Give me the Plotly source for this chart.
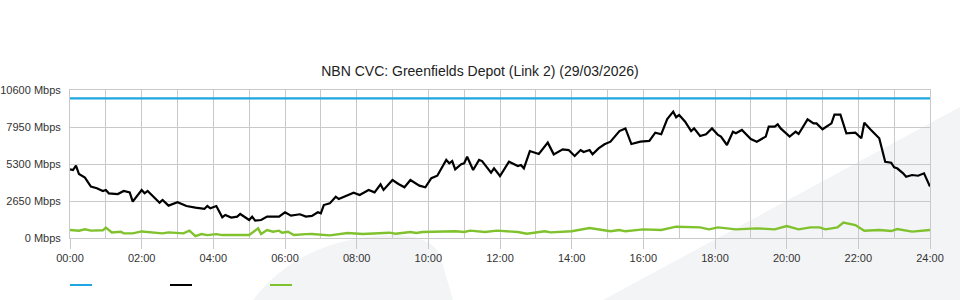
import plotly.graph_objects as go

# ---- data ----
capacity_min = [0, 1440]
capacity_mbps = [10000, 10000]

down_min = [0, 5, 10, 15, 25, 35, 45, 55, 60, 65, 80, 90, 100, 105, 120, 125, 130, 150, 155, 165,
            180, 195, 210, 225, 230, 235, 245, 255, 260, 270, 280, 285, 300, 305, 310, 320, 330, 350,
            360, 370, 385, 395, 405, 415, 420, 425, 435, 445, 450, 460, 475, 485, 500, 510, 520, 525,
            540, 550, 560, 570, 585, 595, 605, 615, 630, 635, 640, 645, 655, 660, 665, 675, 685, 690,
            705, 710, 720, 735, 750, 755, 760, 770, 785, 800, 810, 825, 835, 845, 855, 860, 870, 875,
            885, 895, 905, 920, 930, 940, 955, 970, 980, 990, 1000, 1010, 1015, 1020, 1030, 1040, 1045,
            1055, 1065, 1075, 1085, 1090, 1100, 1110, 1115, 1125, 1140, 1150, 1165, 1170, 1180, 1185,
            1190, 1205, 1215, 1220, 1235, 1245, 1250, 1260, 1275, 1280, 1290, 1300, 1315, 1325, 1330,
            1340, 1355, 1365, 1375, 1380, 1385, 1395, 1400, 1410, 1420, 1430, 1440]
down_mbps = [4920, 4870, 5180, 4580, 4320, 3680, 3560, 3370, 3440, 3200, 3150, 3370, 3270, 2600, 3440,
             3200, 3370, 2530, 2720, 2320, 2560, 2290, 2170, 2080, 2290, 2130, 2290, 1480, 1650, 1460,
             1530, 1720, 1290, 1530, 1240, 1290, 1530, 1530, 1840, 1600, 1700, 1530, 1580, 1840, 1770,
             2360, 2480, 2960, 2790, 2960, 3250, 3080, 3440, 3270, 3840, 3440, 4150, 3870, 3630, 4150,
             3750, 3630, 4280, 4460, 5590, 5350, 5510, 4920, 5280, 5350, 5820, 4870, 5590, 5510, 4680,
             4990, 4440, 5460, 5160, 5230, 4990, 6230, 6020, 6830, 5990, 6350, 6300, 5870, 6300, 6160,
             6300, 5990, 6420, 6710, 6900, 7660, 7850, 6730, 6900, 6950, 7540, 7430, 8520, 9050, 8650,
             8810, 8330, 7660, 7850, 7310, 7430, 7850, 7380, 7260, 6660, 7610, 7500, 7740, 7090, 6900,
             7260, 7970, 7970, 8140, 7850, 7260, 7610, 7450, 8500, 8210, 8210, 7790, 8210, 8830, 8830,
             7500, 7540, 7140, 8260, 7790, 7140, 5460, 5390, 5060, 4990, 4630, 4390, 4510, 4460, 4630,
             3680]

up_min = [0, 15, 25, 35, 55, 60, 70, 85, 90, 105, 120, 135, 145, 155, 165, 180, 190, 200, 210, 220,
          230, 245, 255, 275, 300, 315, 320, 330, 340, 350, 355, 365, 375, 395, 405, 435, 465, 490,
          535, 545, 570, 580, 590, 645, 660, 670, 695, 715, 750, 765, 795, 805, 830, 840, 870, 895,
          905, 920, 930, 960, 990, 1015, 1055, 1070, 1085, 1115, 1150, 1180, 1200, 1220, 1240, 1255,
          1265, 1285, 1295, 1315, 1330, 1355, 1375, 1385, 1410, 1440]
up_mbps = [570, 525, 620, 525, 550, 740, 400, 450, 330, 330, 470, 400, 330, 330, 400, 330, 330, 525,
           140, 280, 210, 280, 210, 210, 210, 690, 280, 570, 450, 525, 380, 450, 210, 280, 285, 190,
           360, 286, 380, 310, 430, 360, 430, 480, 430, 525, 430, 525, 430, 310, 480, 405, 480, 480,
           716, 525, 480, 570, 480, 620, 573, 810, 760, 620, 760, 620, 690, 620, 860, 620, 760, 760,
           620, 760, 1100, 930, 525, 573, 500, 640, 455, 573]

x_tickvals = list(range(0, 1441, 120))
x_ticktext = ["00:00", "02:00", "04:00", "06:00", "08:00", "10:00", "12:00",
              "14:00", "16:00", "18:00", "20:00", "22:00", "24:00"]
y_tickvals = [0, 2650, 5300, 7950, 10600]
y_ticktext = ["0 Mbps", "2650 Mbps", "5300 Mbps", "7950 Mbps", "10600 Mbps"]

title_text = "NBN CVC: Greenfields Depot (Link 2) (29/03/2026)"

BLUE = "#1ea6e0"
BLACK = "#000000"
GREEN = "#80c22e"
GRID = "#c9c9c9"
SWOOSH = "#f3f4f6"

# ---- figure ----
fig = go.Figure()
fig.add_trace(go.Scatter(x=capacity_min, y=capacity_mbps, mode="lines",
                         line=dict(color=BLUE, width=2.2), hoverinfo="skip"))
fig.add_trace(go.Scatter(x=down_min, y=down_mbps, mode="lines",
                         line=dict(color=BLACK, width=2.2), hoverinfo="skip"))
fig.add_trace(go.Scatter(x=up_min, y=up_mbps, mode="lines",
                         line=dict(color=GREEN, width=2.4), hoverinfo="skip"))

ML, MR, MT, MB = 70, 30, 90, 62
PW, PH = 960 - ML - MR, 300 - MT - MB


def px(x):
    return (x - ML) / PW


def py(y):
    return (300 - MB - y) / PH


shapes = []
# background swooshes (decoration)
shapes.append(dict(
    type="path", xref="paper", yref="paper", layer="below",
    path=(f"M {px(253)},{py(300)} Q {px(300)},{py(238)} {px(392)},{py(235)} "
          f"Q {px(430)},{py(235)} {px(440)},{py(255)} L {px(453)},{py(300)} Z"),
    fillcolor=SWOOSH, line=dict(width=0)))
shapes.append(dict(
    type="path", xref="paper", yref="paper", layer="below",
    path=f"M {px(603)},{py(300)} L {px(960)},{py(107)} L {px(960)},{py(300)} Z",
    fillcolor=SWOOSH, line=dict(width=0)))
# legend swatches (no text)
for x0, col in [(70, BLUE), (170, BLACK), (270, GREEN)]:
    shapes.append(dict(type="line", xref="paper", yref="paper",
                       x0=px(x0), x1=px(x0 + 22), y0=py(285), y1=py(285),
                       line=dict(color=col, width=2)))

fig.update_layout(
    width=960, height=300,
    margin=dict(l=ML, r=MR, t=MT, b=MB),
    paper_bgcolor="white",
    plot_bgcolor="rgba(0,0,0,0)",
    showlegend=False,
    font=dict(family="Liberation Sans, Arial, sans-serif", size=11, color="#333333"),
    title=dict(text=title_text, x=0.5, xanchor="center", xref="container",
               y=1 - 71 / 300, yanchor="middle", yref="container",
               font=dict(size=14, color="#222222"), automargin=False),
    shapes=shapes,
)
fig.update_xaxes(
    range=[0, 1440], tickmode="array", tickvals=x_tickvals, ticktext=x_ticktext,
    showgrid=True, gridcolor=GRID, gridwidth=1,
    ticks="outside", ticklen=10, tickcolor=GRID, tickwidth=1,
    minor=dict(tickmode="array", tickvals=list(range(0, 1441, 60)),
               showgrid=True, gridcolor=GRID, gridwidth=1, ticks=""),
    showline=True, linecolor=GRID, linewidth=1, mirror=True,
    zeroline=False, fixedrange=True, automargin=False,
)
fig.update_yaxes(
    range=[0, 10600], tickmode="array", tickvals=y_tickvals, ticktext=y_ticktext,
    showgrid=True, gridcolor=GRID, gridwidth=1,
    ticks="outside", ticklen=6, tickcolor="rgba(0,0,0,0)",
    showline=True, linecolor=GRID, linewidth=1, mirror=True,
    zeroline=False, fixedrange=True, automargin=False,
)

fig.write_html("out.html")
